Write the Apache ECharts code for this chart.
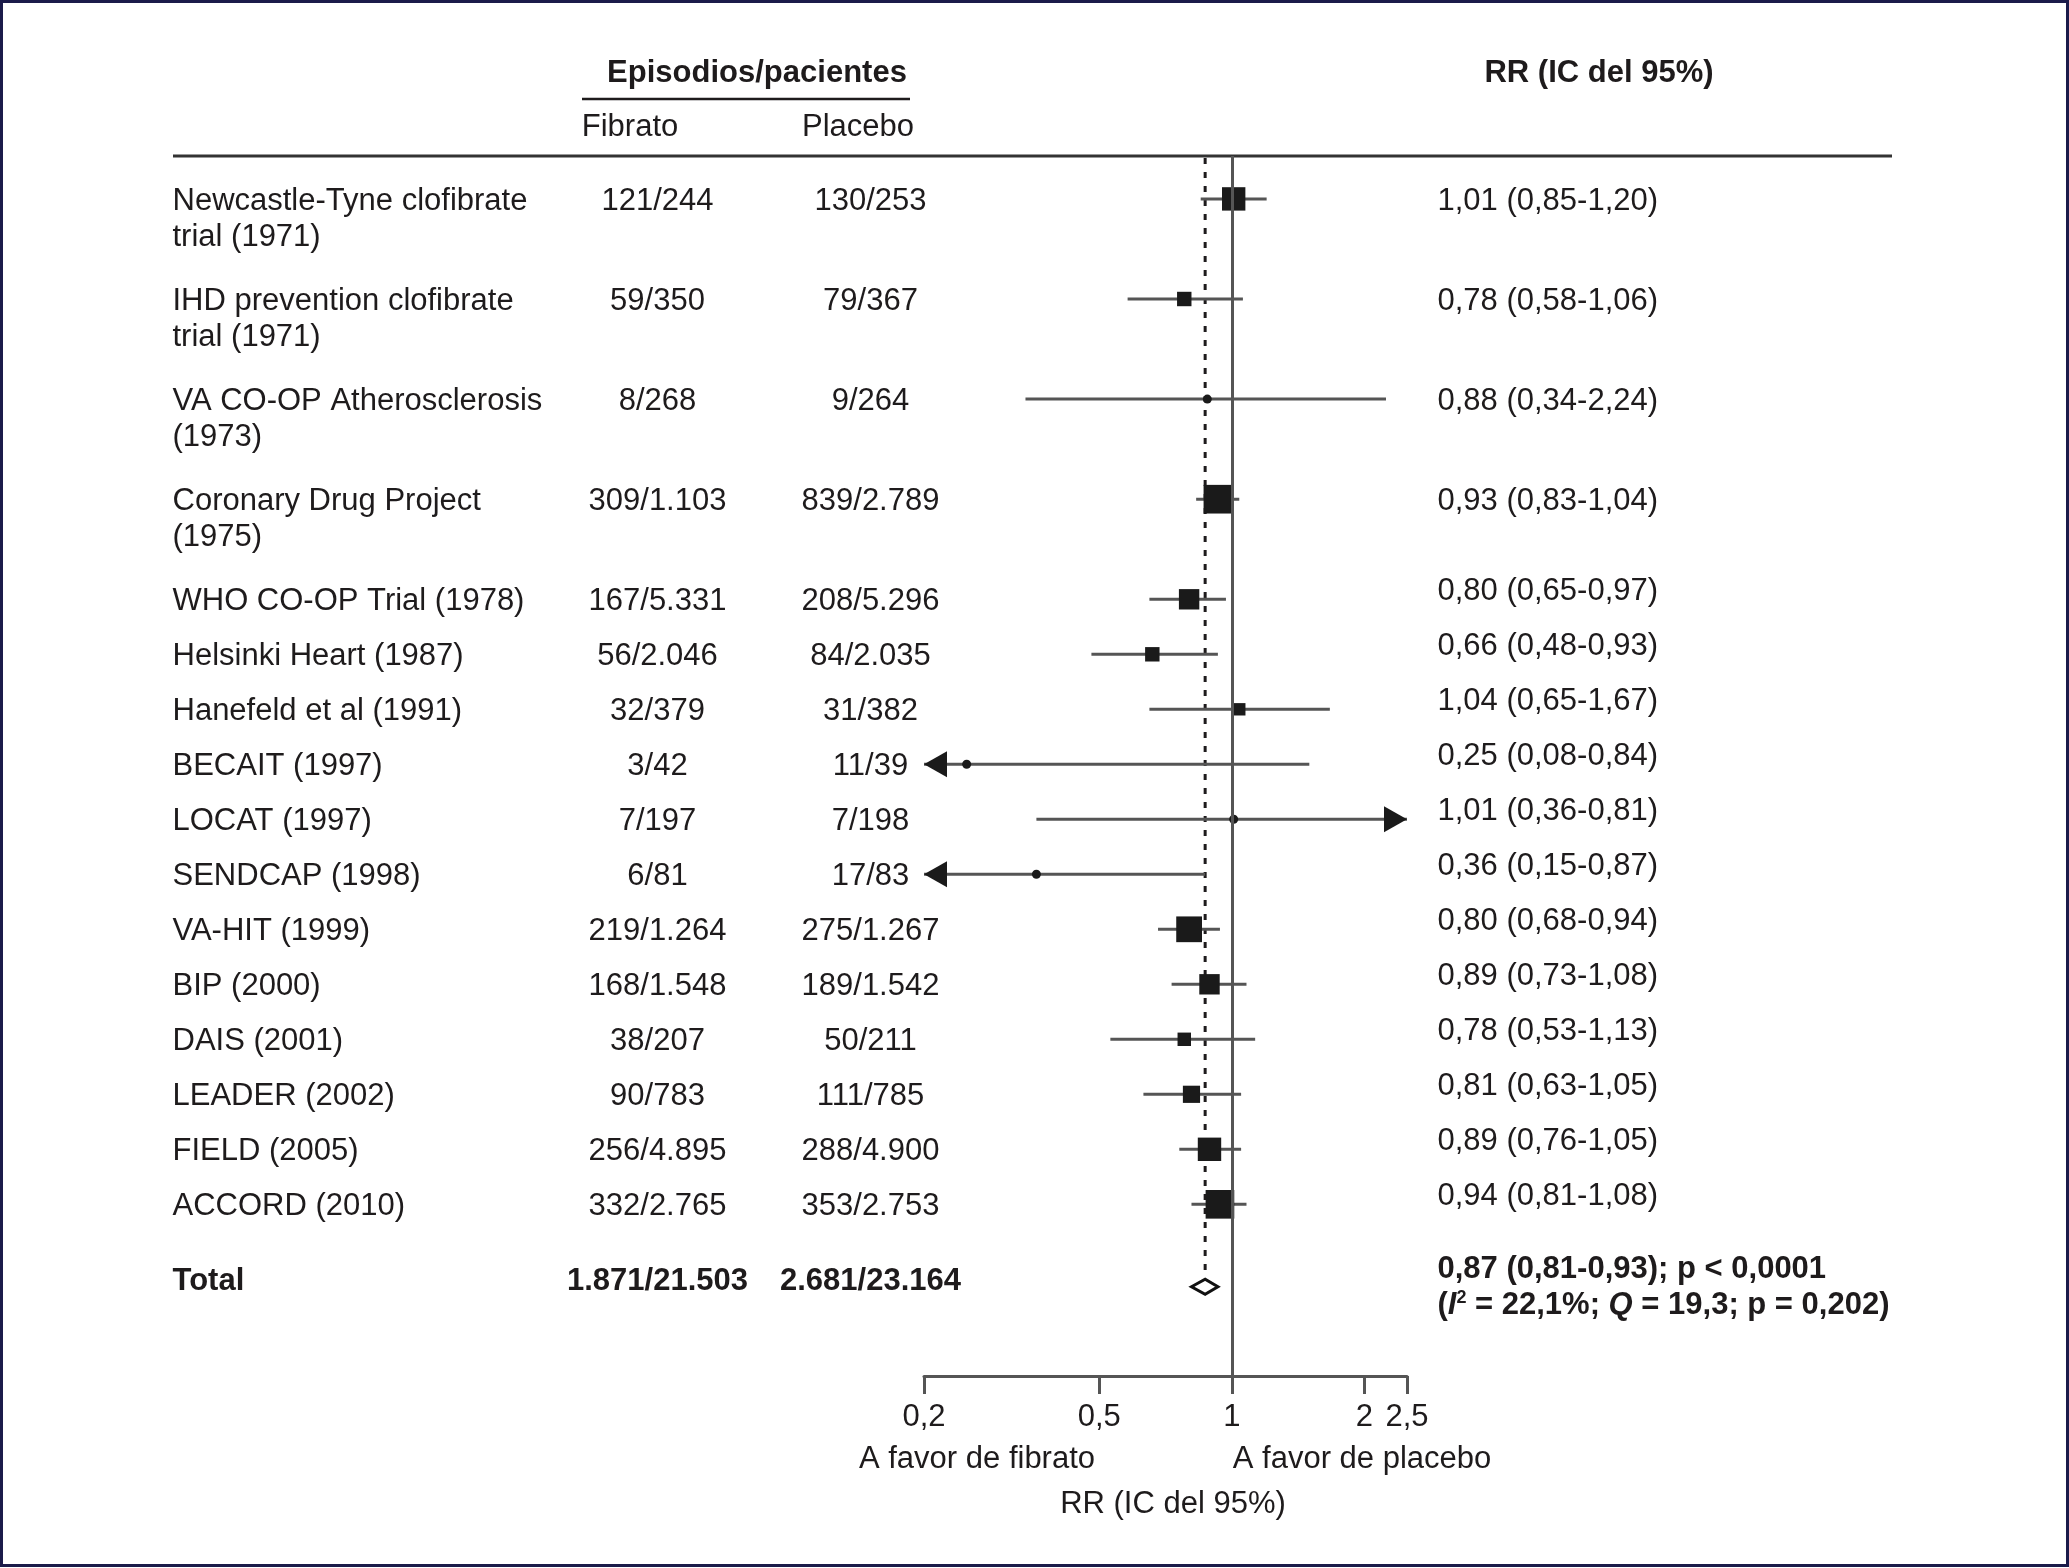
<!DOCTYPE html>
<html>
<head>
<meta charset="utf-8">
<script src="https://cdn.jsdelivr.net/npm/echarts@6/dist/echarts.min.js"></script>
<style>
html,body{margin:0;padding:0;background:#fff;}
#chart{width:2069px;height:1568px;}
</style>
</head>
<body>
<div id="chart"></div>
<script>
// ---------------- DATA ----------------
const studies = [
  'Newcastle-Tyne clofibrate\ntrial (1971)',
  'IHD prevention clofibrate\ntrial (1971)',
  'VA CO-OP Atherosclerosis\n(1973)',
  'Coronary Drug Project\n(1975)',
  'WHO CO-OP Trial (1978)',
  'Helsinki Heart (1987)',
  'Hanefeld et al (1991)',
  'BECAIT (1997)',
  'LOCAT (1997)',
  'SENDCAP (1998)',
  'VA-HIT (1999)',
  'BIP (2000)',
  'DAIS (2001)',
  'LEADER (2002)',
  'FIELD (2005)',
  'ACCORD (2010)'
];
const fibrato = ['121/244','59/350','8/268','309/1.103','167/5.331','56/2.046','32/379','3/42','7/197','6/81','219/1.264','168/1.548','38/207','90/783','256/4.895','332/2.765'];
const placebo = ['130/253','79/367','9/264','839/2.789','208/5.296','84/2.035','31/382','11/39','7/198','17/83','275/1.267','189/1.542','50/211','111/785','288/4.900','353/2.753'];
const rrText = ['1,01 (0,85-1,20)','0,78 (0,58-1,06)','0,88 (0,34-2,24)','0,93 (0,83-1,04)','0,80 (0,65-0,97)','0,66 (0,48-0,93)','1,04 (0,65-1,67)','0,25 (0,08-0,84)','1,01 (0,36-0,81)','0,36 (0,15-0,87)','0,80 (0,68-0,94)','0,89 (0,73-1,08)','0,78 (0,53-1,13)','0,81 (0,63-1,05)','0,89 (0,76-1,05)','0,94 (0,81-1,08)'];
// plotted estimates
const rr     = [1.01,0.78,0.88,0.93,0.80,0.66,1.04,0.25,1.01,0.36,0.80,0.89,0.78,0.81,0.89,0.94];
const ciLow  = [0.85,0.58,0.34,0.83,0.65,0.48,0.65,0.08,0.36,0.15,0.68,0.73,0.53,0.63,0.76,0.81];
const ciHigh = [1.20,1.06,2.24,1.04,0.97,0.93,1.67,1.50,2.81,0.87,0.94,1.08,1.13,1.05,1.05,1.08];
const weight = [10.0,3.8,1.3,15.0,7.6,3.8,2.8,1.3,1.3,1.3,12.1,7.6,3.3,5.4,10.0,15.0];

const totalLabel = 'Total';
const totalFibrato = '1.871/21.503';
const totalPlacebo = '2.681/23.164';
const totalRR = 0.87, totalLow = 0.81, totalHigh = 0.93;
const totalRRText = '0,87 (0,81-0,93); p < 0,0001';
const hetI2 = '22,1%', hetQ = '19,3', hetP = '0,202';

const xTicks = [0.2, 0.5, 1, 2, 2.5];
const xMin = 0.2, xMax = 2.5;

// ---------------- LAYOUT ----------------
const FONT = 'Liberation Sans, Arial, sans-serif';
const FS = 31;
const TXT = '#1e1b1c';
const W = 2069, H = 1568;
const GRID_TOP = 156, GRID_BOTTOM = 192;
const UNIT = 55;
const YMAX = (H - GRID_TOP - GRID_BOTTOM) / UNIT;

// row positions (in row units) from label line counts
const rowPos = [];
let p = 0.78;
studies.forEach((s, i) => {
  rowPos.push(p);
  p += s.indexOf('\n') >= 0 ? 1.82 : 1;
});
const totalPos = rowPos[rowPos.length - 1] + 1.5;

const ciData = studies.map((s, i) => [rr[i], ciLow[i], ciHigh[i], rowPos[i], weight[i]]);

const richStyles = {
  b: { fontFamily: FONT, fontSize: FS, fontWeight: 'bold', color: TXT, lineHeight: 36 },
  bi: { fontFamily: FONT, fontSize: FS, fontWeight: 'bold', fontStyle: 'italic', color: TXT, lineHeight: 36 },
  sup: { fontFamily: FONT, fontSize: 18, fontWeight: 'bold', color: TXT, lineHeight: 36, padding: [0, 0, 14, 0] }
};

function txtSeries(id, xPos, align, items) {
  return {
    id: id,
    type: 'scatter',
    xAxisIndex: 1, yAxisIndex: 1,
    symbol: 'circle',
    symbolSize: 1,
    silent: true,
    z: 5,
    itemStyle: { color: 'rgba(255,255,255,0)' },
    data: items.map(it => Object.assign({ value: [xPos, it.pos], txt: it.text }, it.label ? { label: it.label } : {})),
    label: {
      show: true,
      position: [0, 0],
      align: align,
      verticalAlign: 'middle',
      fontFamily: FONT,
      fontSize: FS,
      lineHeight: 36,
      color: TXT,
      opacity: 1,
      textBorderWidth: 0,
      rich: richStyles,
      offset: [0, 3],
      formatter: prm => prm.data.txt
    }
  };
}

const nameItems = studies.map((s, i) => ({ text: s, pos: rowPos[i], label: { verticalAlign: 'top', offset: [0, -15] } }));
nameItems.push({ text: totalLabel, pos: totalPos, label: { fontWeight: 'bold', offset: [0, -5] } });
const fibItems = fibrato.map((s, i) => ({ text: s, pos: rowPos[i] }));
fibItems.push({ text: totalFibrato, pos: totalPos, label: { fontWeight: 'bold', offset: [0, -5] } });
const plaItems = placebo.map((s, i) => ({ text: s, pos: rowPos[i] }));
plaItems.push({ text: totalPlacebo, pos: totalPos, label: { fontWeight: 'bold', offset: [0, -5] } });
const rrItems = rrText.map((s, i) => ({ text: s, pos: rowPos[i], label: { offset: [0, studies[i].indexOf('\n') >= 0 ? 3 : -7] } }));
rrItems.push({
  text: '{b|' + totalRRText + '}\n{b|(}{bi|I}{sup|2}{b| = ' + hetI2 + '; }{bi|Q}{b| = ' + hetQ + '; p = ' + hetP + ')}',
  pos: totalPos,
  label: { offset: [0, 1] }
});

function renderCI(params, api) {
  const v = api.value(0), lo = api.value(1), hi = api.value(2), pos = api.value(3), w = api.value(4);
  const c = api.coord([v, pos]);
  const a = api.coord([Math.max(lo, xMin), pos]);
  const b = api.coord([Math.min(hi, xMax), pos]);
  const y = c[1];
  const children = [{
    type: 'line',
    shape: { x1: a[0], y1: y, x2: b[0], y2: y },
    style: { stroke: '#555', lineWidth: 3 }
  }];
  if (lo < xMin) {
    children.push({ type: 'polygon', shape: { points: [[a[0], y], [a[0] + 23, y - 13], [a[0] + 23, y + 13]] }, style: { fill: '#1a1a1a' } });
  }
  if (hi > xMax) {
    children.push({ type: 'polygon', shape: { points: [[b[0], y], [b[0] - 23, y - 13], [b[0] - 23, y + 13]] }, style: { fill: '#1a1a1a' } });
  }
  const size = 7.4 * Math.sqrt(w);
  if (size < 10) {
    children.push({ type: 'circle', shape: { cx: c[0], cy: y, r: 4.5 }, style: { fill: '#1a1a1a' } });
  } else {
    children.push({ type: 'rect', shape: { x: c[0] - size / 2, y: y - size / 2, width: size, height: size }, style: { fill: '#1a1a1a' } });
  }
  return { type: 'group', children: children };
}

function renderDiamond(params, api) {
  const v = api.value(0), lo = api.value(1), hi = api.value(2), pos = api.value(3);
  const c = api.coord([v, pos]);
  const l = api.coord([lo, pos]);
  const r = api.coord([hi, pos]);
  const top = api.coord([v, 0]);
  const hh = 7.5;
  return {
    type: 'group',
    children: [
      { type: 'line', shape: { x1: c[0], y1: top[1] + 2, x2: c[0], y2: c[1] - hh - 3 }, style: { stroke: TXT, lineWidth: 3, lineDash: [6, 8] } },
      { type: 'polygon', shape: { points: [[l[0], c[1]], [c[0], c[1] - hh], [r[0], c[1]], [c[0], c[1] + hh]] }, style: { fill: '#fff', stroke: '#111', lineWidth: 3 } }
    ]
  };
}

const chart = echarts.init(document.getElementById('chart'), null, { renderer: 'canvas', width: W, height: H });

function gtext(text, x, y, opts) {
  return {
    type: 'text', x: x, y: y, silent: true,
    style: Object.assign({
      text: text, fill: TXT,
      font: (opts && opts.bold ? 'bold ' : '') + FS + 'px ' + FONT,
      textAlign: 'center', textVerticalAlign: 'middle',
      align: 'center', verticalAlign: 'middle'
    }, (opts && opts.style) || {})
  };
}

const option = {
  animation: false,
  backgroundColor: '#fff',
  grid: [
    { left: 924, right: W - 1407, top: GRID_TOP, bottom: GRID_BOTTOM, containLabel: false },
    { left: 0, right: 0, top: GRID_TOP, bottom: GRID_BOTTOM, containLabel: false }
  ],
  xAxis: [
    {
      type: 'log', gridIndex: 0, min: xMin, max: xMax, logBase: 10,
      axisLine: { show: true, onZero: false, lineStyle: { color: '#555', width: 3 } },
      axisTick: { show: true, customValues: xTicks, length: 18, inside: false, lineStyle: { color: '#555', width: 3 } },
      axisLabel: {
        show: true, customValues: xTicks, margin: 26,
        fontFamily: FONT, fontSize: FS, color: TXT,
        formatter: v => String(v).replace('.', ',')
      },
      splitLine: { show: false }, minorTick: { show: false }, minorSplitLine: { show: false }
    },
    { type: 'value', gridIndex: 1, min: 0, max: W, show: false }
  ],
  yAxis: [
    { type: 'value', gridIndex: 0, inverse: true, min: 0, max: YMAX, show: false },
    { type: 'value', gridIndex: 1, inverse: true, min: 0, max: YMAX, show: false }
  ],
  series: [
    {
      type: 'custom', xAxisIndex: 0, yAxisIndex: 0, silent: true, z: 2,
      renderItem: renderDiamond,
      encode: { x: [0, 1, 2], y: 3 },
      data: [[totalRR, totalLow, totalHigh, totalPos]]
    },
    {
      type: 'custom', xAxisIndex: 0, yAxisIndex: 0, silent: true, z: 3,
      renderItem: renderCI,
      encode: { x: [0, 1, 2], y: 3 },
      data: ciData,
      markLine: {
        silent: true, symbol: ['none', 'none'],
        label: { show: false },
        lineStyle: { color: '#555', width: 3, type: 'solid' },
        data: [{ xAxis: 1 }]
      }
    },
    txtSeries('names', 173, 'left', nameItems),
    txtSeries('fib', 658, 'center', fibItems),
    txtSeries('pla', 871, 'center', plaItems),
    txtSeries('rr', 1438, 'left', rrItems)
  ],
  graphic: [
    { type: 'rect', silent: true, shape: { x: 1.5, y: 1.5, width: W - 3, height: H - 4 }, style: { fill: 'none', stroke: '#1b1b4a', lineWidth: 3 } },
    gtext('Episodios/pacientes', 757, 73, { bold: true }),
    { type: 'line', silent: true, shape: { x1: 582, y1: 99, x2: 910, y2: 99 }, style: { stroke: TXT, lineWidth: 2.5 } },
    gtext('Fibrato', 630, 127),
    gtext('Placebo', 858, 127),
    gtext('RR (IC del 95%)', 1599, 73, { bold: true }),
    { type: 'line', silent: true, shape: { x1: 173, y1: 156, x2: 1892, y2: 156 }, style: { stroke: '#333', lineWidth: 3 } },
    gtext('A favor de fibrato', 977, 1459),
    gtext('A favor de placebo', 1362, 1459),
    gtext('RR (IC del 95%)', 1173, 1504)
  ]
};

chart.setOption(option);
</script>
</body>
</html>
